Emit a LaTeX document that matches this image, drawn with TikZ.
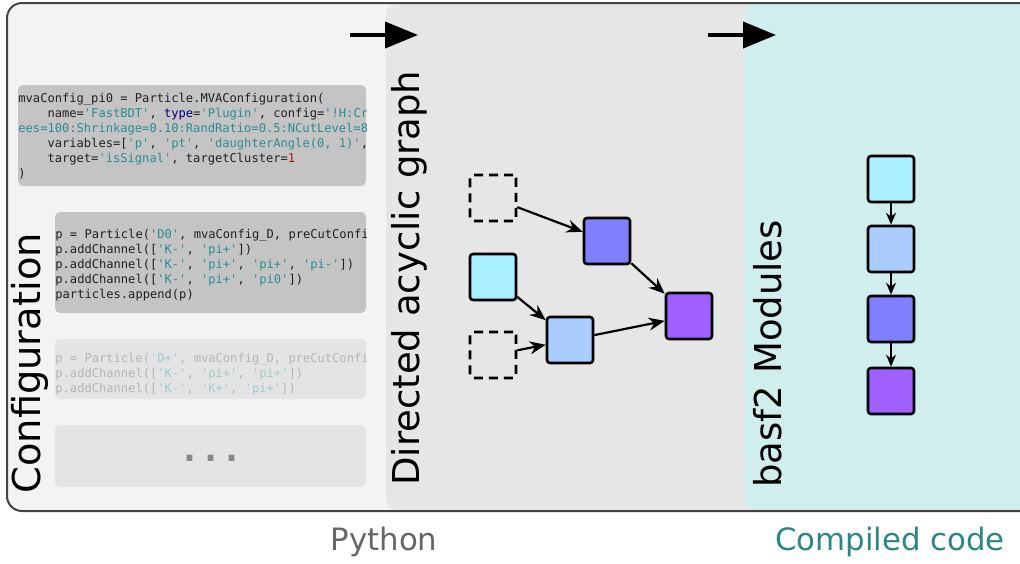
\documentclass[tikz,border=0pt]{standalone}
\usepackage{fontspec}
\setmainfont{DejaVu Sans}
\setsansfont{DejaVu Sans}
\setmonofont{DejaVu Sans Mono}
\usetikzlibrary{positioning,arrows.meta}

\definecolor{frameline}{HTML}{444444}
\definecolor{pyback}{HTML}{F3F3F3}
\definecolor{dagback}{HTML}{E6E6E6}
\definecolor{cppback}{HTML}{CFEEED}
\definecolor{codebox}{HTML}{C4C4C4}
\definecolor{fadebox}{HTML}{E4E4E4}
\definecolor{codeink}{HTML}{202020}
\definecolor{codestr}{HTML}{2E8B8B}
\definecolor{codekw}{HTML}{000080}
\definecolor{codenum}{HTML}{A31515}
\definecolor{fadetxt}{HTML}{B4B4B4}
\definecolor{fadestr}{HTML}{9CCBCB}
\definecolor{modcyan}{HTML}{AAF0FF}
\definecolor{modlight}{HTML}{AACCFF}
\definecolor{modblue}{HTML}{8080FF}
\definecolor{modpurple}{HTML}{A060FF}
\definecolor{pytext}{HTML}{666666}
\definecolor{cpptext}{HTML}{2A8784}
\definecolor{dotgray}{HTML}{888888}

\newcommand{\codefont}{\ttfamily\fontsize{6.05}{7.5}\selectfont}
\newcommand{\pystr}[1]{\textcolor{codestr}{#1}}

\tikzset{
  module/.style={draw, line width=1.3pt, rounded corners=1.5pt, minimum size=23pt, inner sep=0pt},
  ghost/.style={module, dash pattern=on 4.5pt off 3pt},
  flow/.style={-{Stealth[length=8pt,width=6.5pt]}, line width=1.1pt},
  chainflow/.style={-{Stealth[length=6pt,width=5pt]}, line width=0.9pt},
  stage/.style={-{Triangle[length=16.5pt,width=13pt]}, line width=2pt},
  vlabel/.style={rotate=90, anchor=base west, inner sep=0pt, font=\fontsize{18.5}{22}\selectfont},
  code/.style={anchor=north west, inner sep=0pt, align=left, font=\codefont, text=codeink},
  fadedcode/.style={code, text=fadetxt, font={\codefont\colorlet{codestr}{fadestr}}}
}

\begin{document}
\begin{tikzpicture}[x=0.5pt,y=-0.5pt,on grid]
\useasboundingbox (0,0) rectangle (1020,563);
% stages
\fill[pyback, rounded corners=7.5pt] (7,3) rectangle (1060,511);
\fill[dagback, rounded corners=5pt] (386,4) rectangle (1060,510);
\fill[cppback, rounded corners=5pt] (745,4) rectangle (1060,510);
\draw[frameline, line width=1pt, rounded corners=7.5pt] (7,3) rectangle (1060,511);

% configuration snippets
\fill[codebox, rounded corners=2.5pt] (18,85) rectangle (366,186);
\begin{scope}
  \clip (18,85) rectangle (366,186);
  \node[code] (cfgmva) at (18,93) {mvaConfig\_pi0 = Particle.MVAConfiguration(\\
\ \ \ \ name=\pystr{'FastBDT'}, \textcolor{codekw}{type}=\pystr{'Plugin'}, config=\pystr{'!H:CreateMVAPdfs}\\
\pystr{\llap{Tr}ees=100:Shrinkage=0.10:RandRatio=0.5:NCutLevel=8:nTreeLayers=3'}\\
\ \ \ \ variables=[\pystr{'p'}, \pystr{'pt'}, \pystr{'daughterAngle(0, 1)'}, \pystr{'M'}],\\
\ \ \ \ target=\pystr{'isSignal'}, targetCluster=\textcolor{codenum}{1}\\
)};
\end{scope}

\fill[codebox, rounded corners=2.5pt] (55,212) rectangle (366,313);
\begin{scope}
  \clip (55,212) rectangle (366,313);
  \node[code] (cfgdzero) at (55,229) {p = Particle(\pystr{'D0'}, mvaConfig\_D, preCutConfig)\\
p.addChannel([\pystr{'K-'}, \pystr{'pi+'}])\\
p.addChannel([\pystr{'K-'}, \pystr{'pi+'}, \pystr{'pi+'}, \pystr{'pi-'}])\\
p.addChannel([\pystr{'K-'}, \pystr{'pi+'}, \pystr{'pi0'}])\\
particles.append(p)};
\end{scope}

\fill[fadebox, rounded corners=2.5pt] (55,339) rectangle (366,399);
\begin{scope}
  \clip (55,339) rectangle (366,399);
  \node[fadedcode] (cfgdplus) at (55,353) {p = Particle(\pystr{'D+'}, mvaConfig\_D, preCutConfig)\\
p.addChannel([\pystr{'K-'}, \pystr{'pi+'}, \pystr{'pi+'}])\\
p.addChannel([\pystr{'K-'}, \pystr{'K+'}, \pystr{'pi+'}])};
\end{scope}

\fill[fadebox, rounded corners=2.5pt] (55,425) rectangle (366,487);
\node[font=\ttfamily\bfseries\fontsize{17.5}{20}\selectfont, text=dotgray] (moredots) at (211,458) {...};

% stage titles
\node[vlabel, font=\fontsize{19.2}{23}\selectfont] (cfglabel) at (40,494) {Configuration};
\node[vlabel] (daglabel) at (419,486) {Directed acyclic graph};
\node[vlabel] (modlabel) at (781,488) {basf2 Modules};

\coordinate (pystart) at (350,35);
\coordinate (pyend) at (418,35);
\coordinate (dagstart) at (708,35);
\coordinate (dagend) at (776,35);
\draw[stage] (pystart) -- (pyend);
\draw[stage] (dagstart) -- (dagend);

% directed acyclic graph
\node[ghost] (ghostD) at (493,198) {};
\node[module, fill=modcyan, below=39.5pt of ghostD] (dagK) {};
\node[ghost, below=39pt of dagK] (ghostPi) {};
\node[module, fill=modlight, below right=31.5pt and 38.5pt of dagK] (dagD) {};
\node[module, fill=modblue, below right=21.5pt and 57pt of ghostD] (dagDst) {};
\node[module, fill=modpurple, below right=37.5pt and 41pt of dagDst] (dagB) {};
\path[flow]
  (ghostD) edge (dagDst)
  (dagK) edge (dagD)
  (ghostPi) edge (dagD)
  (dagDst) edge (dagB)
  (dagD) edge (dagB);

% module chain
\node[module, fill=modcyan] (modK) at (891,179) {};
\node[module, fill=modlight, below=35pt of modK] (modD) {};
\node[module, fill=modblue, below=35pt of modD] (modDst) {};
\node[module, fill=modpurple, below=36pt of modDst] (modB) {};
\path[chainflow]
  (modK) edge (modD)
  (modD) edge (modDst)
  (modDst) edge (modB);

% languages
\node[font=\fontsize{15.4}{18}\selectfont, text=pytext] (pylabel) at (384,542) {Python};
\node[font=\fontsize{15.4}{18}\selectfont, text=cpptext] (cpplabel) at (890,542) {Compiled code};
\end{tikzpicture}
\end{document}
